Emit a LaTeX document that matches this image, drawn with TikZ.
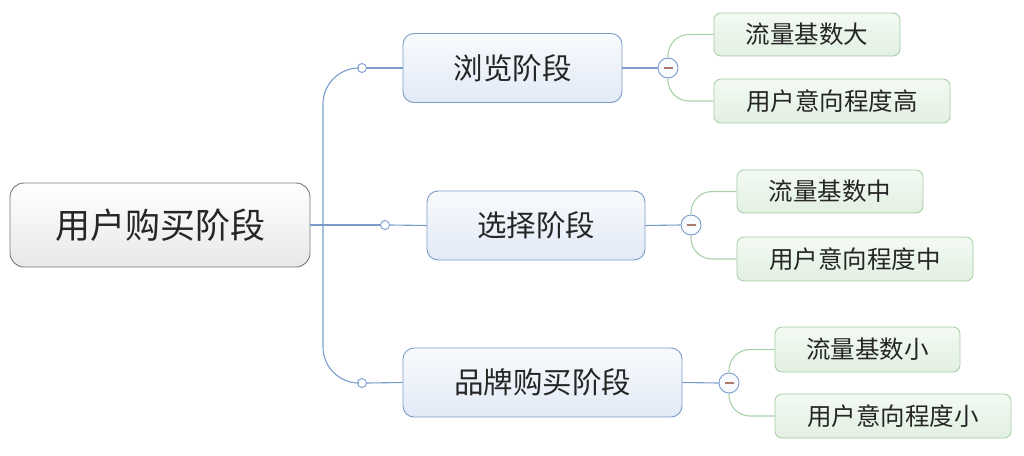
\documentclass[tikz,border=0pt]{standalone}
\usepackage{fontspec}
\newfontfamily\cjk{Noto Sans CJK SC}
\definecolor{bline}{HTML}{7A9CCB}
\definecolor{bborder}{HTML}{7B9BC8}
\definecolor{gline}{HTML}{A9D0A9}
\definecolor{gborder}{HTML}{A3CBA3}
\definecolor{rborder}{HTML}{777777}
\definecolor{txt}{HTML}{262626}
\definecolor{minuscol}{HTML}{A87A68}
\definecolor{BF1}{HTML}{F8FAFD}
\definecolor{BF2}{HTML}{E2EAF6}
\definecolor{LF1}{HTML}{F3FAF3}
\definecolor{LF2}{HTML}{E2F0E2}
\tikzset{
  rootbox/.style={draw=rborder, line width=0.9pt, rounded corners=14pt, top color=white, bottom color=black!9,
    minimum width=300pt, minimum height=84pt, inner sep=0pt, text=txt, font=\cjk\fontsize{35}{40}\selectfont},
  stagebox/.style={draw=bborder, line width=0.9pt, rounded corners=11pt, top color=BF1, bottom color=BF2,
    minimum height=69pt, inner sep=0pt, text=txt, font=\cjk\fontsize{29.5}{34}\selectfont},
  leafbox/.style={draw=gborder, line width=0.8pt, rounded corners=7pt, top color=LF1, bottom color=LF2,
    minimum height=44pt, inner sep=0pt, text=txt, font=\cjk\fontsize{24.5}{28}\selectfont},
  dotc/.style={circle, draw=bline, fill=white, line width=0.9pt, minimum size=9pt, inner sep=0pt},
  minusnode/.style={circle, draw=bline, fill=BF1, line width=0.9pt, minimum size=20pt, inner sep=0pt,
    path picture={\draw[draw=minuscol, line width=1.6pt] ([xshift=-4.5pt]path picture bounding box.center) -- ([xshift=4.5pt]path picture bounding box.center);}},
  bconn/.style={draw=bline, line width=1.1pt},
  gconn/.style={draw=gline, line width=1.1pt, rounded corners=21pt},
}
\begin{document}
\begin{tikzpicture}[x=1pt,y=-1pt]
\useasboundingbox (0,0) rectangle (1024,455);
% nodes
\node[rootbox] (root) at (160,225) {用户购买阶段};
\node[stagebox, minimum width=219pt] (b1) at (512.5,68) {浏览阶段};
\node[stagebox, minimum width=218pt] (b2) at (536,225.5) {选择阶段};
\node[stagebox, minimum width=279pt] (b3) at (542.5,382.5) {品牌购买阶段};
\node[dotc] (s1) at (362,68) {};
\node[dotc] (s2) at (385,225) {};
\node[dotc] (s3) at (362,383) {};
\node[minusnode] (m1) at (668,68) {};
\node[minusnode] (m2) at (691,225) {};
\node[minusnode] (m3) at (729,383) {};
\node[leafbox, minimum width=186pt, minimum height=43pt] (l11) at (807,34.5) {流量基数大};
\node[leafbox, minimum width=236pt] (l12) at (832,101) {用户意向程度高};
\node[leafbox, minimum width=186pt, minimum height=43pt] (l21) at (830,191.5) {流量基数中};
\node[leafbox, minimum width=236pt] (l22) at (855,259) {用户意向程度中};
\node[leafbox, minimum width=185pt, minimum height=45pt] (l31) at (867.5,349.5) {流量基数小};
\node[leafbox, minimum width=236pt] (l32) at (893,416) {用户意向程度小};
% trunk
\coordinate (tr) at (323,225);
\draw[bconn, rounded corners=36pt] (s1.west) -| (tr) |- (s3.west);
\draw[bconn] (root.east) -- (s2.west);
\draw[bconn] (s1.east) -- (b1.west);
\draw[bconn] (s2.east) -- (b2.west);
\draw[bconn] (s3.east) -- (b3.west);
\draw[bconn] (b1.east) -- (m1.west);
\draw[bconn] (b2.east) -- (m2.west);
\draw[bconn] (b3.east) -- (m3.west);
% leaves
\draw[gconn] (m1.north) |- (l11.west);
\draw[gconn] (m1.south) |- (l12.west);
\draw[gconn] (m2.north) |- (l21.west);
\draw[gconn] (m2.south) |- (l22.west);
\draw[gconn] (m3.north) |- (l31.west);
\draw[gconn] (m3.south) |- (l32.west);
\end{tikzpicture}
\end{document}
